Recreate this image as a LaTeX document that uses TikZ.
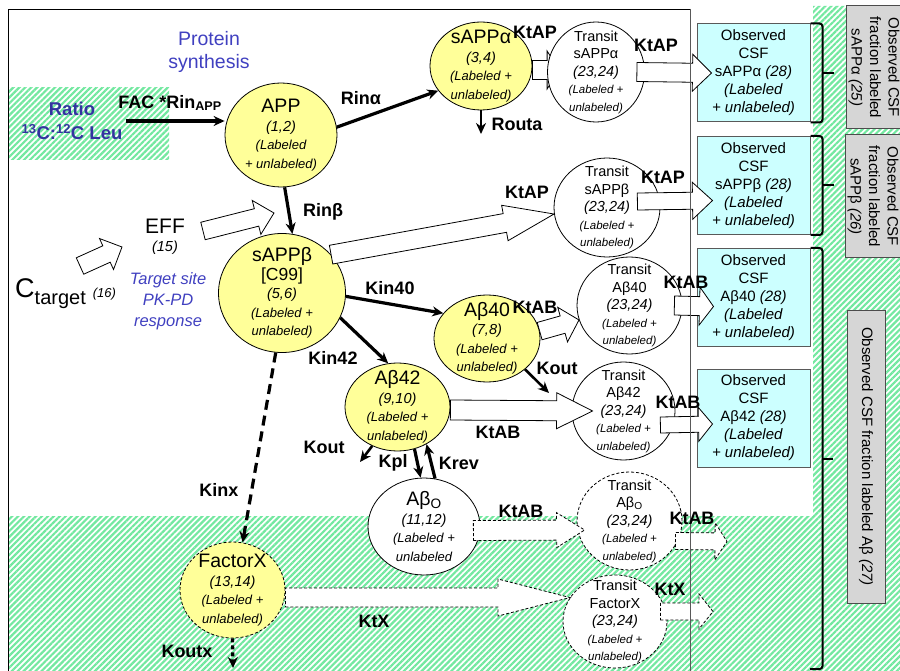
\documentclass[tikz,border=0pt]{standalone}
\usepackage{fontspec}
\setmainfont{Liberation Sans}
\usepackage{tikz}
\usetikzlibrary{arrows.meta,shapes,positioning,calc,patterns.meta,backgrounds}
\definecolor{dfyellow}{RGB}{255,255,153}
\definecolor{dfcyan}{RGB}{204,255,255}
\definecolor{dfgray}{RGB}{214,214,214}
\definecolor{dfhatch}{RGB}{115,232,160}
\definecolor{dfblue}{RGB}{64,64,192}
\definecolor{dfnavy}{RGB}{51,51,160}
\tikzstyle{flow} = [line width=3.2pt,-{Stealth[length=11pt,width=10pt]}]
\tikzstyle{pool} = [ellipse,draw,line width=0.8pt,inner sep=-50pt,align=center]
\tikzstyle{yel} = [pool,fill=dfyellow,font=\fontsize{14.5}{18.5}\selectfont]
\tikzstyle{tran} = [pool,fill=white,font=\fontsize{14.5}{17.5}\selectfont]
\tikzstyle{dsh} = [dash pattern=on 3pt off 2pt]
\tikzstyle{obsbox} = [draw=gray!70!black,line width=1pt,fill=dfcyan,minimum width=113pt,minimum height=98pt,inner sep=1pt,align=center,font=\fontsize{15}{18}\selectfont]
\tikzstyle{sumbox} = [draw=gray!60!black,line width=1pt,fill=dfgray,rotate=-90,inner sep=1pt,align=center,font=\fontsize{15}{18.5}\selectfont]
\tikzstyle{rate} = [inner sep=1pt,font=\fontsize{18}{20}\selectfont\bfseries]
\tikzstyle{hollow} = [draw,fill=white,line width=0.8pt]
\tikzstyle{brk} = [line width=2pt,rounded corners=3pt]
\tikzstyle{hatch} = [pattern={Lines[angle=45,distance=4.2pt,line width=2.2pt]},pattern color=dfhatch]

\newcommand{\poolname}[1]{{\fontsize{19.5}{18}\selectfont #1}}
\newcommand{\poollab}[1]{{\fontsize{13}{17}\selectfont\itshape #1}}
\newcommand{\translab}[1]{{\fontsize{11.5}{16}\selectfont\itshape #1}}
% block arrow: [style] start, end, shaft half width, head half width, head length
\newcommand{\blockarrow}[6][]{%
  \draw[hollow,#1] let \p2=(#2), \p3=(#3),
    \n1={atan2(\y3-\y2,\x3-\x2)}, \n2={veclen(\x3-\x2,\y3-\y2)} in
    [shift={(\p2)},rotate=\n1]
    (0,#4) -- (\n2-#6,#4) -- (\n2-#6,#5) -- (\n2,0) --
    (\n2-#6,-#5) -- (\n2-#6,-#4) -- (0,-#4) -- cycle;}

\begin{document}
\begin{tikzpicture}[x=1pt,y=-1pt]
    \useasboundingbox (0,0) rectangle (900,671);

    % Hatched areas
    \fill[hatch] (8,88) rectangle (169,160);
    \fill[hatch] (8,516) -- (813,516) -- (813,6) -- (900,6) -- (900,671) -- (8,671) -- cycle;

    % Frame
    \draw[line width=0.8pt] (690,9) -- (8,9) -- (8,671);

    % Inputs
    \node[text=dfblue,align=center,font=\fontsize{19.5}{23}\selectfont] (protsyn) at (209,52) {Protein\\synthesis};
    \node[text=dfnavy,align=center,font=\fontsize{18.5}{24}\selectfont\bfseries] (ratio) at (72,121) {Ratio\\\textsuperscript{13}C:\textsuperscript{12}C Leu};
    \node[align=center,font=\fontsize{21}{18}\selectfont] (eff) at (165,237) {EFF\\{\fontsize{14.5}{18}\selectfont\itshape (15)}};
    \node[text=dfblue,align=center,font=\fontsize{16.5}{21}\selectfont\itshape] (tsite) at (168,301) {Target site\\PK-PD\\response};
    \node[anchor=base west,inner sep=0pt] (ctgt) at (15,298) {{\fontsize{27}{30}\selectfont C}\raisebox{-7pt}{\fontsize{20}{24}\selectfont target}\hspace{7pt}{\fontsize{13}{15}\selectfont\itshape (16)}};

    % Pools
    \node[yel,minimum width=112pt,minimum height=104pt] (app) at (281,135) {\poolname{APP}\\\textit{(1,2)}\\\poollab{(Labeled}\\\poollab{+ unlabeled)}};
    \node[yel,minimum width=102pt,minimum height=88pt] (sappa) at (481,66) {\poolname{sAPPα}\\\textit{(3,4)}\\\poollab{(Labeled +}\\\poollab{unlabeled)}};
    \node[yel,minimum width=127pt,minimum height=119pt] (sappb) at (282,293) {\poolname{sAPPβ}\\{\fontsize{17.5}{18}\selectfont [C99]}\\\textit{(5,6)}\\\poollab{(Labeled +}\\\poollab{unlabeled)}};
    \node[yel,minimum width=106pt,minimum height=87pt] (ab40) at (487,338.5) {\poolname{Aβ40}\\\textit{(7,8)}\\\poollab{(Labeled +}\\\poollab{unlabeled)}};
    \node[yel,minimum width=105pt,minimum height=88pt] (ab42) at (397.5,407) {\poolname{Aβ42}\\\textit{(9,10)}\\\poollab{(Labeled +}\\\poollab{unlabeled)}};
    \node[pool,fill=white,font=\fontsize{14.5}{18.5}\selectfont,minimum width=112pt,minimum height=97pt] (abo) at (424,526.5) {\poolname{Aβ\textsubscript{O}}\\\textit{(11,12)}\\\poollab{(Labeled +}\\\poollab{unlabeled}};
    \node[yel,dsh,minimum width=105pt,minimum height=96pt] (fx) at (232.5,590) {\poolname{FactorX}\\\textit{(13,14)}\\\poollab{(Labeled +}\\\poollab{unlabeled)}};

    % Transit pools
    \node[tran,minimum width=97pt,minimum height=100pt] (tsappa) at (596,72) {Transit\\sAPPα\\\textit{(23,24)}\\\translab{(Labeled +}\\\translab{unlabeled)}};
    \node[tran,minimum width=106pt,minimum height=99pt] (tsappb) at (607,207.5) {Transit\\sAPPβ\\\textit{(23,24)}\\\translab{(Labeled +}\\\translab{unlabeled)}};
    \node[tran,minimum width=105pt,minimum height=97pt] (tab40) at (629.5,305.5) {Transit\\Aβ40\\\textit{(23,24)}\\\translab{(Labeled +}\\\translab{unlabeled)}};
    \node[tran,minimum width=103pt,minimum height=98pt] (tab42) at (623.5,411) {Transit\\Aβ42\\\textit{(23,24)}\\\translab{(Labeled +}\\\translab{unlabeled)}};
    \node[tran,dsh,minimum width=105pt,minimum height=98pt] (tabo) at (629.5,521) {Transit\\Aβ\textsubscript{O}\\\textit{(23,24)}\\\translab{(Labeled +}\\\translab{unlabeled)}};
    \node[tran,dsh,minimum width=104pt,minimum height=93pt] (tfx) at (615,621.5) {Transit\\FactorX\\\textit{(23,24)}\\\translab{(Labeled +}\\\translab{unlabeled)}};

    % Observed CSF
    \node[obsbox] (obs1) at (753.5,73) {Observed\\CSF\\sAPPα \textit{(28)}\\\textit{(Labeled}\\\textit{+ unlabeled)}};
    \node[obsbox] (obs2) at (753.5,185.5) {Observed\\CSF\\sAPPβ \textit{(28)}\\\textit{(Labeled}\\\textit{+ unlabeled)}};
    \node[obsbox] (obs3) at (753.5,297.5) {Observed\\CSF\\Aβ40 \textit{(28)}\\\textit{(Labeled}\\\textit{+ unlabeled)}};
    \node[obsbox] (obs4) at (753.5,418) {Observed\\CSF\\Aβ42 \textit{(28)}\\\textit{(Labeled}\\\textit{+ unlabeled)}};

    % Fractions
    \node[sumbox,minimum width=123pt,minimum height=56pt] (fraca) at (874,67.5) {Observed CSF\\fraction labeled\\sAPPα \textit{(25)}};
    \node[sumbox,minimum width=123pt,minimum height=56pt] (fracb) at (873,196.5) {Observed CSF\\fraction labeled\\sAPPβ \textit{(26)}};
    \node[sumbox,minimum width=293pt,minimum height=38pt] (fracab) at (866,456.5) {Observed CSF fraction labeled Aβ \textit{(27)}};

    \coordinate (routa) at (481,134);
    \coordinate (koutb) at (549,393);
    \coordinate (kouta) at (360,462);
    \coordinate (koutx) at (233,668);
    \coordinate (effhit) at (274,213);
    \coordinate (outabo) at (727,541.5);
    \coordinate (outfx) at (713,611.5);
    \coordinate (brkend) at (810,669);

    % Transport arrows
    \begin{scope}[on background layer]
        \blockarrow{[yshift=-4pt]sappa.east}{[shift={(12,-2)}]tsappa.west}{9.5}{19}{12}
        \blockarrow{ab40.8}{tab40.196}{9}{18}{17}
    \end{scope}
    \blockarrow{[xshift=-8pt]tsappa.east}{[xshift=15pt]obs1.west}{9.5}{18.5}{19}
    \blockarrow{sappb.38}{tsappb.187}{9.5}{18}{50}
    \blockarrow{[shift={(-23,-6)}]tsappb.east}{[shift={(16,15)}]obs2.west}{8.5}{18.5}{20}
    \blockarrow{[xshift=-8pt]tab40.east}{[shift={(17,9)}]obs3.west}{9.5}{19}{14}
    \blockarrow{[yshift=-3pt]ab42.east}{[xshift=21pt]tab42.west}{10}{18}{36}
    \blockarrow{[shift={(-15,14)}]tab42.east}{[shift={(16,6)}]obs4.west}{8}{17}{14}
    \blockarrow[dsh]{[shift={(-7,4)}]abo.east}{[shift={(8,9)}]tabo.west}{10}{17.5}{28}
    \blockarrow[dsh]{[shift={(-7,20)}]tabo.east}{outabo}{8.5}{18.5}{12}
    \blockarrow[dsh]{[yshift=-7.5pt]fx.east}{tfx.152}{9.5}{18.5}{72}
    \blockarrow[dsh]{[shift={(-7,-10)}]tfx.east}{outfx}{8.5}{17.5}{14}
    \blockarrow{[shift={(65,-32)}]ctgt.base west}{[shift={(-43,10)}]eff.center}{9}{17}{17}
    \blockarrow{[shift={(38,-6)}]eff.center}{effhit}{9}{17.5}{18}

    \draw[gray!70!black,line width=1pt] (690,9) -- (690,671);

    % Rate arrows
    \draw[flow] (ratio.east) -- (ratio.east -| app.west);
    \draw[flow] (app.8) -- (sappa.210);
    \draw[flow,line width=2.6pt] (sappa.south) -- (routa);
    \draw[flow] (app.274) -- (sappb.80);
    \draw[flow] (sappb.357) -- (ab40.150);
    \draw[flow] (sappb.337) -- (ab42.102);
    \draw[flow,line width=2.6pt] (ab40.321) -- (koutb);
    \draw[flow,line width=2.6pt] (ab42.237) -- (kouta);
    \draw[flow] (ab42.292) -- (abo.94);
    \draw[flow] (abo.77) -- (ab42.308);
    \draw[flow,dash pattern=on 10pt off 6pt] (sappb.264) -- (fx.78);
    \draw[flow,dash pattern=on 4pt off 3pt] (fx.south) -- (koutx);

    % Brackets
    \draw[brk] (obs1.north east) -- ++(12,0) |- (obs1.south east);
    \draw[brk] ([xshift=12pt]obs1.east) -- ++(11,0);
    \draw[brk] (obs2.north east) -- ++(12,0) |- (obs2.south east);
    \draw[brk] ([xshift=12pt]obs2.east) -- ++(11,0);
    \draw[brk] (obs3.north east) -- ++(12,0) |- (brkend);
    \draw[brk] ($(obs3.north east)!0.5!(brkend)+(12,0)$) -- ++(11,0);

    % Rate labels
    \node[rate] (lfac) at (170,103) {FAC *Rin\textsubscript{APP}};
    \node[rate] (lrina) at (361,98) {Rinα};
    \node[rate] (lktapa) at (535,32) {KtAP};
    \node[rate] (lrouta) at (517,124) {Routa};
    \node[rate] (lktapta) at (656,45) {KtAP};
    \node[rate] (lrinb) at (323,212) {Rinβ};
    \node[rate] (lktapb) at (527,192) {KtAP};
    \node[rate] (lktaptb) at (663,177) {KtAP};
    \node[rate] (lkin40) at (390,288) {Kin40};
    \node[rate] (lktab40) at (535,307) {KtAB};
    \node[rate] (lktabt40) at (686,282) {KtAB};
    \node[rate] (lkin42) at (333,358) {Kin42};
    \node[rate] (lkoutb) at (557,368) {Kout};
    \node[rate] (lktab42) at (498,432) {KtAB};
    \node[rate] (lktabt42) at (678,402) {KtAB};
    \node[rate] (lkouta) at (324,447) {Kout};
    \node[rate] (lkpl) at (393,463) {Kpl};
    \node[rate] (lkrev) at (459,463) {Krev};
    \node[rate] (lkinx) at (219,490) {Kinx};
    \node[rate] (lktabo) at (521,511) {KtAB};
    \node[rate] (lktabto) at (692,518) {KtAB};
    \node[rate] (lktx) at (374,621) {KtX};
    \node[rate] (lktxt) at (670,589) {KtX};
    \node[rate] (lkoutx) at (187,651) {Koutx};
\end{tikzpicture}
\end{document}
